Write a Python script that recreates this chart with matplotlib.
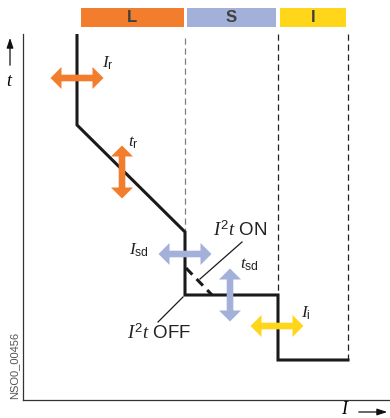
import matplotlib
matplotlib.use("Agg")
import matplotlib.pyplot as plt
from matplotlib.patches import Rectangle, Polygon

plt.rcParams['font.family'] = ['Liberation Sans', 'DejaVu Sans']
plt.rcParams['mathtext.fontset'] = 'custom'
plt.rcParams['mathtext.it'] = 'Liberation Serif:italic'
plt.rcParams['mathtext.rm'] = 'Liberation Sans'
plt.rcParams['mathtext.sf'] = 'Liberation Sans'

# tripping characteristic (schematic units)
curve_I = [54, 54, 162, 162, 255, 255, 325]
curve_t = [366, 275, 168, 105, 105, 40, 40]
i2t_on_I = [163, 189]
i2t_on_t = [132, 105]

# zones above the plot
zone_names = ['L', 'S', 'I']
zone_start = [58, 164, 257]
zone_end = [161, 253, 323]
zone_colors = ['#F27D2D', '#A3B1DA', '#FFD619']

# dashed zone limits
limit_I = [162, 255, 325]
limit_top = [362, 366, 366]
limit_bottom = [168, 105, 40]
limit_colors = ['#808080', '#222222', '#222222']

# setting arrows: centre I, centre t, orientation, colour
arrow_I = [54, 99, 162, 207, 254]
arrow_t = [322, 228, 146, 105, 74]
arrow_dir = ['h', 'v', 'h', 'v', 'h']
arrow_col = ['#F27D2D', '#F27D2D', '#A3B1DA', '#A3B1DA', '#FFD619']


def double_arrow(ax, xc, yc, orient, color, half=26.5, shaft=3.3, head_w=11, head_l=11):
    pts = [(-half, 0), (-half + head_l, head_w), (-half + head_l, shaft),
           (half - head_l, shaft), (half - head_l, head_w), (half, 0),
           (half - head_l, -head_w), (half - head_l, -shaft),
           (-half + head_l, -shaft), (-half + head_l, -head_w)]
    if orient == 'v':
        pts = [(b, a) for a, b in pts]
    pts = [(xc + a, yc + b) for a, b in pts]
    ax.add_patch(Polygon(pts, closed=True, facecolor=color, edgecolor='none', zorder=4))


fig = plt.figure(figsize=(3.9, 4.18), dpi=100)
ax = fig.add_axes([23 / 390, 18 / 418, 367 / 390, 366 / 418])
ax.set_xlim(0, 367)
ax.set_ylim(0, 366)
ax.spines['top'].set_visible(False)
ax.spines['right'].set_visible(False)
for s in ['left', 'bottom']:
    ax.spines[s].set_linewidth(0.9)
    ax.spines[s].set_color('#333333')
ax.set_xticks([])
ax.set_yticks([])

# zone bars
for name, x0, x1, c in zip(zone_names, zone_start, zone_end, zone_colors):
    ax.add_patch(Rectangle((x0, 373), x1 - x0, 19, facecolor=c, edgecolor='none', clip_on=False))
    ax.text((x0 + x1) / 2, 382, name, ha='center', va='center', fontsize=12,
            fontweight='bold', color='#404040', clip_on=False)

for x, y0, y1, c in zip(limit_I, limit_top, limit_bottom, limit_colors):
    ax.plot([x, x], [y0, y1], ls=(0, (5, 3)), lw=0.9, color=c, zorder=2)

ax.plot(curve_I, curve_t, color='#1a1a1a', lw=2.2, zorder=3, solid_joinstyle='miter')
ax.plot(i2t_on_I, i2t_on_t, color='#1a1a1a', lw=2.2, ls=(0, (3, 2)), zorder=3)

for x, y, o, c in zip(arrow_I, arrow_t, arrow_dir, arrow_col):
    double_arrow(ax, x, y, o, c)

# labels
lab = dict(fontsize=12.5, color='#222222', va='center')
ax.text(79, 337, r'$I_{\mathrm{r}}$', **lab)
ax.text(105, 257, r'$t_{\mathrm{r}}$', **lab)
ax.text(106, 150, r'$I_{\mathrm{sd}}$', **lab)
ax.text(217, 135, r'$t_{\mathrm{sd}}$', **lab)
ax.text(278, 87, r'$I_{\mathrm{i}}$', **lab)
lab2 = dict(fontsize=13.5, color='#222222', va='center')
ax.text(190, 170, r'$I^{\mathrm{2}}t$ ON', **lab2)
ax.text(104, 67, r'$I^{\mathrm{2}}t$ OFF', **lab2)

# leader lines
ax.plot([177, 219], [121, 158], color='#1a1a1a', lw=0.9, zorder=3)
ax.plot([160, 135], [103, 78], color='#1a1a1a', lw=0.9, zorder=3)

# axis names
fig.text(10 / 390, 1 - 82 / 418, r'$t$', fontsize=13, ha='center', va='center')
ax.annotate('', xy=(10 / 390, 1 - 35 / 418), xytext=(10 / 390, 1 - 68 / 418),
            xycoords='figure fraction', textcoords='figure fraction',
            arrowprops=dict(arrowstyle='-|>,head_length=0.6,head_width=0.2', lw=0.9, color='#111111'))
fig.text(345 / 390, 1 - 410 / 418, r'$I$', fontsize=13, ha='center', va='center')
ax.annotate('', xy=(390 / 390, 1 - 412 / 418), xytext=(356 / 390, 1 - 412 / 418),
            xycoords='figure fraction', textcoords='figure fraction',
            arrowprops=dict(arrowstyle='-|>,head_length=0.6,head_width=0.2', lw=0.9, color='#111111'))

fig.text(14 / 390, 1 - 365 / 418, 'NSO0_00456', rotation=90, fontsize=8,
         color='#555555', ha='center', va='center')

fig.savefig('out.png', dpi=100)
